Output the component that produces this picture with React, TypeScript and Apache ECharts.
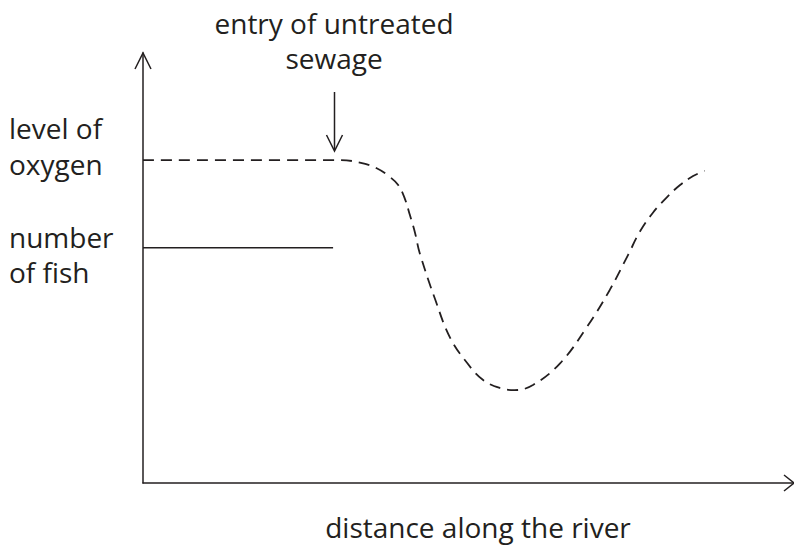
import React, { useEffect, useRef } from "react";
import * as echarts from "echarts";

const oxygenX = [0, 30.3, 33.3, 35.9, 37.9, 39.2, 40.2, 41.0, 41.8, 42.5, 44.9, 47.2, 49.8, 52.2, 54.8, 57.1, 59.9, 64.1, 68.2, 71.7, 74.5, 76.3, 78.3, 80.5, 82.5, 84.5, 86.3];
const oxygenY = [75.1, 75.1, 74.5, 73.2, 71.2, 69.3, 66.2, 62.3, 58.1, 53.5, 42.6, 33.7, 27.9, 24.0, 22.1, 21.6, 22.8, 27.9, 36.3, 44.9, 53.0, 58.4, 62.8, 66.5, 69.3, 71.4, 72.6];
const fishX = [0, 29.2];
const fishY = [54.7, 54.7];
const xLabel = "distance along the river";
const oxygenLabel = ["level of", "oxygen"];
const fishLabel = ["number", "of fish"];
const noteLabel = ["entry of untreated", "sewage"];

const INK = "#231f20";
const FONT = "'Open Sans', 'Noto Sans', sans-serif";

export default function App() {
  const ref = useRef<HTMLDivElement>(null);
  useEffect(() => {
    if (!ref.current) return;
    const chart = echarts.init(ref.current, null, { renderer: "svg" });
    const txt = (s: string, x: number, y: number, align: string) => ({
      type: "text",
      x,
      y,
      style: { text: s, fill: INK, font: `28px ${FONT}`, textAlign: align, textVerticalAlign: "middle" },
    });
    chart.setOption({
      animation: false,
      grid: { left: 143, right: 0, top: 53, bottom: 62 },
      xAxis: {
        type: "value",
        min: 0,
        max: 100,
        axisLine: { show: true, lineStyle: { color: INK, width: 1.5 } },
        axisTick: { show: false },
        axisLabel: { show: false },
        splitLine: { show: false },
      },
      yAxis: {
        type: "value",
        min: 0,
        max: 100,
        axisLine: { show: true, lineStyle: { color: INK, width: 1.5 } },
        axisTick: { show: false },
        axisLabel: { show: false },
        splitLine: { show: false },
      },
      series: [
        {
          type: "line",
          data: oxygenX.map((x, i) => [x, oxygenY[i]]),
          smooth: 0.4,
          showSymbol: false,
          lineStyle: { color: INK, width: 1.8, type: [11, 7] },
        },
        {
          type: "line",
          data: fishX.map((x, i) => [x, fishY[i]]),
          showSymbol: false,
          lineStyle: { color: INK, width: 1.5 },
        },
      ],
      graphic: [
        { type: "polyline", shape: { points: [[135, 69], [143, 53], [151, 69]] }, style: { stroke: INK, lineWidth: 1.5, fill: null } },
        { type: "polyline", shape: { points: [[784, 475], [794, 483], [784, 491]] }, style: { stroke: INK, lineWidth: 1.5, fill: null } },
        { type: "line", shape: { x1: 334.5, y1: 92, x2: 334.5, y2: 150 }, style: { stroke: INK, lineWidth: 1.5 } },
        { type: "polyline", shape: { points: [[326.5, 135], [334.5, 151], [342.5, 135]] }, style: { stroke: INK, lineWidth: 1.5, fill: null } },
        txt(oxygenLabel[0], 9, 128, "left"),
        txt(oxygenLabel[1], 9, 164, "left"),
        txt(fishLabel[0], 9, 237, "left"),
        txt(fishLabel[1], 9, 272, "left"),
        txt(noteLabel[0], 334, 23, "center"),
        txt(noteLabel[1], 334, 58, "center"),
        txt(xLabel, 478, 527, "center"),
      ],
    });
    return () => chart.dispose();
  }, []);
  return <div ref={ref} style={{ width: 794, height: 545, position: "absolute", left: 0, top: 0 }} />;
}
